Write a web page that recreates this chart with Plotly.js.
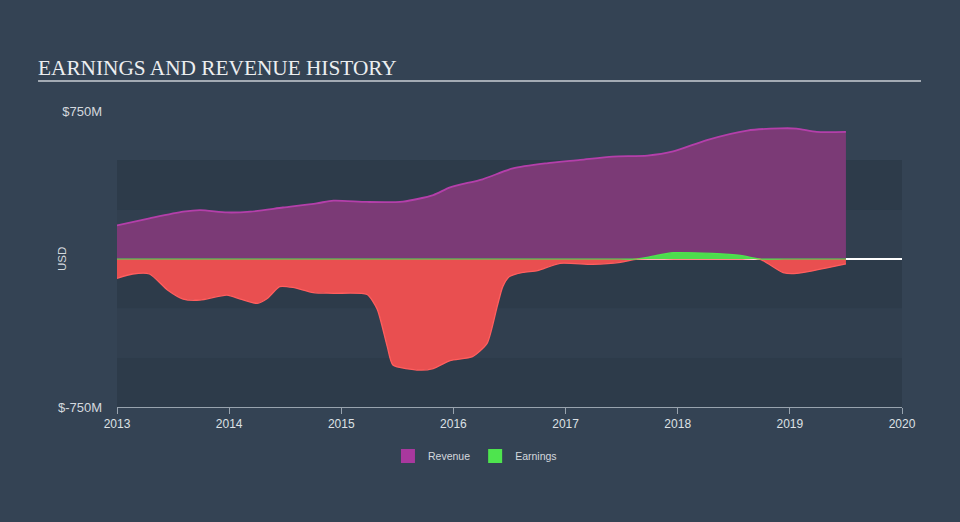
<!DOCTYPE html>
<html>
<head>
<meta charset="utf-8">
<script src="https://cdn.plot.ly/plotly-3.0.1.min.js"></script>
<style>
html,body{margin:0;padding:0;background:#344354;}
#chart{width:960px;height:522px;}
</style>
</head>
<body>
<div id="chart"></div>
<script>
// Revenue (USD millions)
var revenueYears = [2013.00, 2013.29, 2013.59, 2013.74, 2013.98, 2014.19, 2014.48, 2014.78, 2014.93, 2015.23, 2015.55, 2015.82, 2015.97, 2016.26, 2016.53, 2016.83, 2017.13, 2017.42, 2017.73, 2017.96, 2018.26, 2018.62, 2018.91, 2019.06, 2019.24, 2019.50];
var revenueValues = [170, 206, 240, 248, 236, 240, 261, 282, 296, 289, 291, 324, 363, 404, 459, 485, 502, 519, 524, 545, 603, 651, 662, 661, 644, 644];

// Earnings (USD millions)
var earningsYears = [2013.00, 2013.14, 2013.29, 2013.45, 2013.59, 2013.74, 2013.98, 2014.10, 2014.25, 2014.34, 2014.45, 2014.57, 2014.75, 2014.93, 2015.23, 2015.32, 2015.41, 2015.46, 2015.70, 2015.82, 2015.97, 2016.17, 2016.30, 2016.39, 2016.44, 2016.50, 2016.62, 2016.75, 2016.95, 2017.24, 2017.49, 2017.64, 2017.96, 2018.31, 2018.56, 2018.73, 2018.94, 2019.06, 2019.50];
var earningsValues = [-98, -76, -76, -157, -203, -208, -183, -203, -225, -200, -140, -144, -170, -174, -180, -254, -444, -537, -563, -555, -515, -495, -428, -241, -140, -89, -68, -59, -22, -27, -17, 0, 32, 28, 18, 0, -69, -73, -25];

var xTickVals = [2013, 2014, 2015, 2016, 2017, 2018, 2019, 2020];
var xTickText = ['2013', '2014', '2015', '2016', '2017', '2018', '2019', '2020'];
var yTickVals = [-750, 750];
var yTickText = ['$-750M', '$750M'];
var bandEdges = [-750, -500, -250, 0, 250, 500];

var earnNeg = earningsValues.map(function(v){return Math.min(v,0);});
var earnPos = earningsValues.map(function(v){return Math.max(v,0);});

var FONT = 'Liberation Sans, Arial, sans-serif';

var traces = [
  {x: revenueYears, y: revenueValues, type:'scatter', mode:'lines', fill:'tozeroy',
   fillcolor:'#7b3a76', line:{color:'#b43faa', width:1.8, shape:'spline', smoothing:0.7},
   showlegend:false, hoverinfo:'skip'},
  {x: earningsYears, y: earnNeg, type:'scatter', mode:'lines', fill:'tozeroy',
   fillcolor:'#e94f50', line:{color:'#ff5e5e', width:1.3, shape:'spline', smoothing:0.6},
   showlegend:false, hoverinfo:'skip'},
  {x: earningsYears, y: earnPos, type:'scatter', mode:'lines', fill:'tozeroy',
   fillcolor:'#4ddc4d', line:{color:'#4ee44e', width:1.2, shape:'spline', smoothing:0.6},
   showlegend:false, hoverinfo:'skip'},
  {x:[null], y:[null], type:'scatter', mode:'markers', name:'Revenue',
   marker:{symbol:'square', size:14, color:'#a9389e'}},
  {x:[null], y:[null], type:'scatter', mode:'markers', name:'Earnings',
   marker:{symbol:'square', size:14, color:'#4ee44e'}}
];

var shapes = [];
for (var i = 0; i < bandEdges.length - 1; i++) {
  shapes.push({type:'rect', xref:'paper', yref:'y', x0:0, x1:1,
    y0:bandEdges[i], y1:bandEdges[i+1], layer:'below', line:{width:0},
    fillcolor: (i % 2 === 0) ? '#2d3b4a' : '#313f4f'});
}
shapes.push({type:'rect', xref:'paper', yref:'y', x0:0, x1:1, y0:250, y1:500, layer:'below', line:{width:0}, fillcolor:'#2d3b4a'});
shapes.push({type:'line', xref:'paper', yref:'paper', x0:-0.1006, x1:1.0242, y0:1.1014, y1:1.1014,
  line:{color:'#a3abb4', width:2}});

var layout = {
  width:960, height:522,
  margin:{l:117, r:58, t:111, b:115},
  paper_bgcolor:'#344354',
  plot_bgcolor:'rgba(0,0,0,0)',
  title:{text:'EARNINGS AND REVENUE HISTORY', x:0.0396, xanchor:'left', xref:'container',
    y:0.871, yanchor:'middle', yref:'container',
    font:{family:'Liberation Serif, Times New Roman, serif', size:21.3, color:'#eceef0'}},
  xaxis:{range:[2013, 2020], tickvals:xTickVals, ticktext:xTickText, showgrid:false,
    zeroline:false, showline:true, linecolor:'#98a3ae', linewidth:1, ticks:'outside',
    ticklen:6, tickcolor:'#98a3ae', tickfont:{family:FONT, size:12, color:'#dde1e5'}},
  yaxis:{range:[-750, 750], tickvals:yTickVals, ticktext:yTickText, showgrid:false,
    zeroline:true, zerolinecolor:'#ffffff', zerolinewidth:1.5, showline:false, ticks:'',
    ticklabelstandoff:14,
    tickfont:{family:FONT, size:13, color:'#d4d9de'}},
  annotations:[{text:'USD', xref:'paper', yref:'paper', x:-0.0701, y:0.5, textangle:-90,
    showarrow:false, xanchor:'center', yanchor:'middle',
    font:{family:FONT, size:11.5, color:'#d4d9de'}}],
  shapes:shapes,
  showlegend:true,
  legend:{orientation:'h', x:0.456, xanchor:'center', y:-0.1655, yanchor:'middle',
    bgcolor:'rgba(0,0,0,0)', font:{family:FONT, size:10.5, color:'#d4d9de'},
    itemwidth:30}
};

Plotly.newPlot('chart', traces, layout, {displayModeBar:false, staticPlot:true});
</script>
</body>
</html>
